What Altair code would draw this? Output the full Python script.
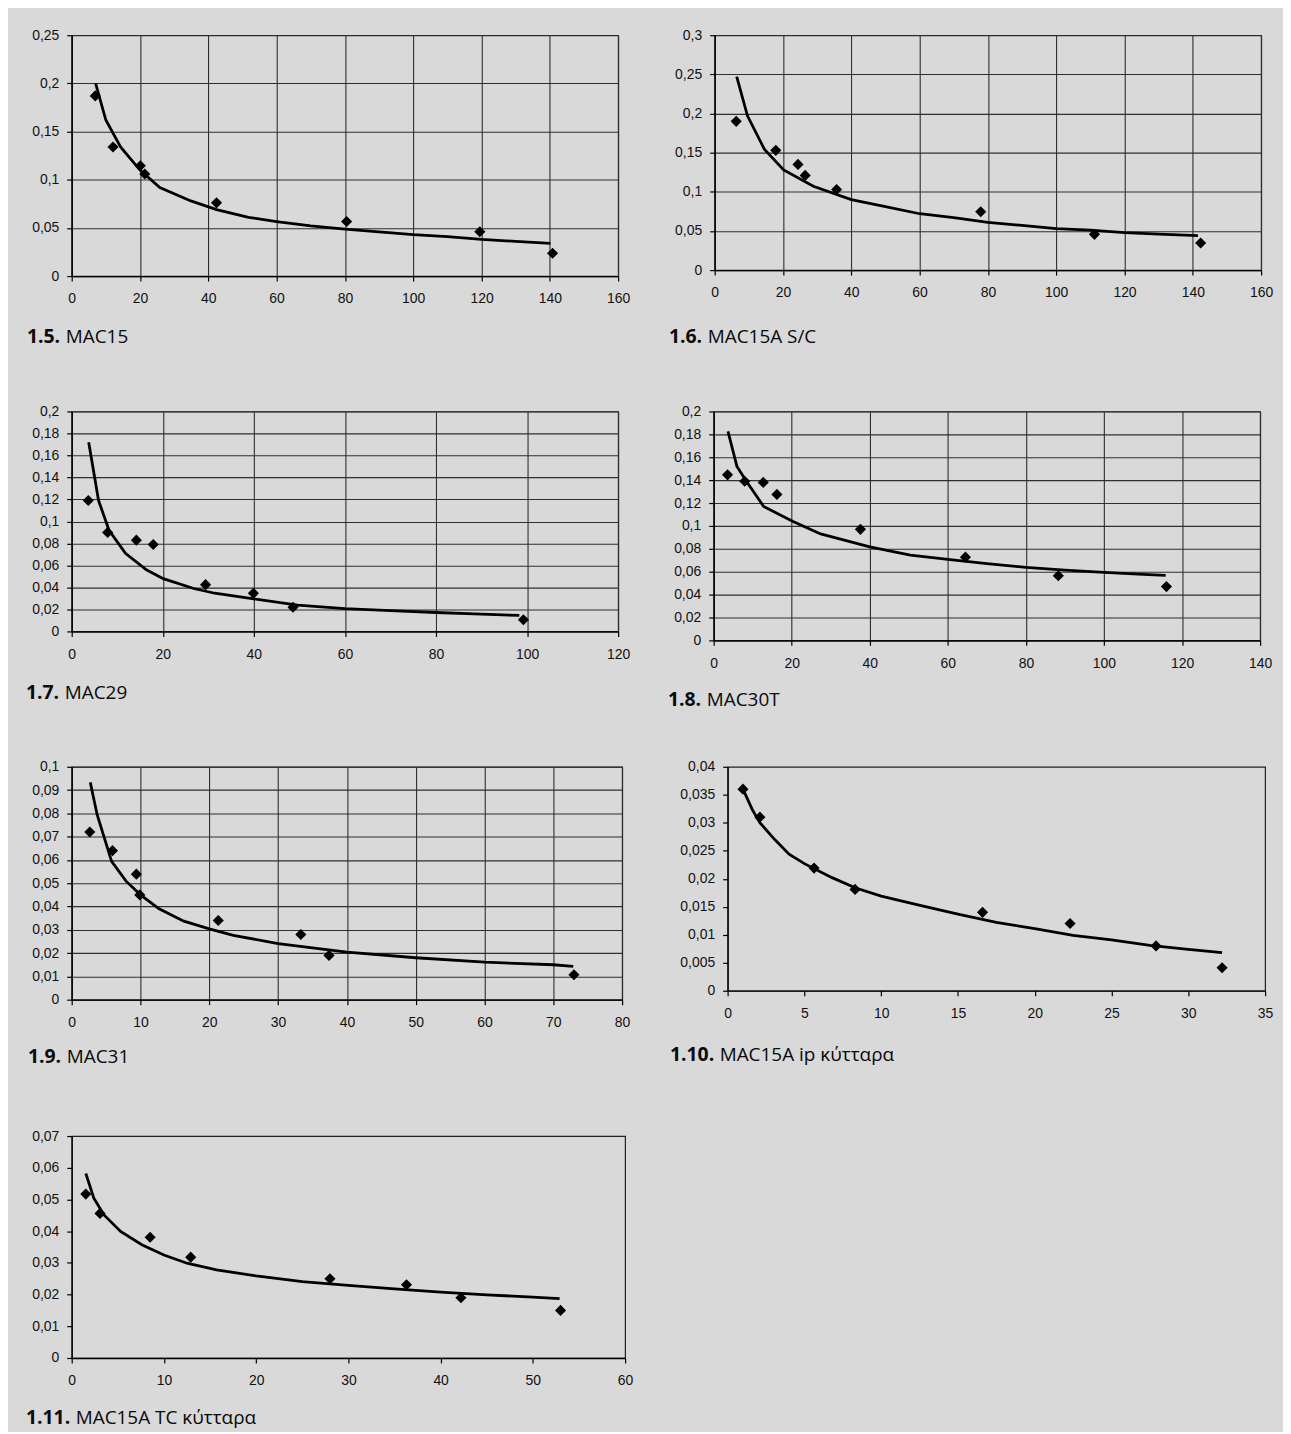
import altair as alt
import pandas as pd

# ---------------- data ----------------
numbers = ["1.5.", "1.6.", "1.7.", "1.8.", "1.9.", "1.10.", "1.11."]
names = ["MAC15", "MAC15A S/C", "MAC29", "MAC30T", "MAC31",
         "MAC15A ip κύτταρα", "MAC15A TC κύτταρα"]

# 1.5 MAC15
pts15_x = [6.9, 12.1, 20.1, 21.4, 42.4, 80.5, 119.5, 140.8]
pts15_y = [0.187, 0.134, 0.1145, 0.106, 0.076, 0.0566, 0.046, 0.0237]
fit15_x = [7.0, 10, 14.3, 20, 25.8, 34.9, 42.4, 51.8, 60, 70, 80, 90, 100, 110, 120, 130, 140.2]
fit15_y = [0.200, 0.162, 0.134, 0.110, 0.092, 0.078, 0.069, 0.061, 0.0566, 0.052,
           0.0487, 0.046, 0.043, 0.041, 0.038, 0.036, 0.034]
xt15 = [0, 20, 40, 60, 80, 100, 120, 140, 160]
yt15 = [0, 0.05, 0.1, 0.15, 0.2, 0.25]

# 1.6 MAC15A S/C
pts16_x = [6.3, 17.9, 24.4, 26.5, 35.7, 77.9, 111.2, 142.3]
pts16_y = [0.190, 0.153, 0.135, 0.121, 0.103, 0.0745, 0.0457, 0.0347]
fit16_x = [6.45, 9.6, 14.6, 20.2, 28.9, 40, 50, 60, 70, 80, 90, 100, 110, 120, 130, 141.5]
fit16_y = [0.247, 0.197, 0.154, 0.128, 0.107, 0.090, 0.081, 0.072, 0.067, 0.061,
           0.057, 0.053, 0.051, 0.048, 0.046, 0.044]
xt16 = [0, 20, 40, 60, 80, 100, 120, 140, 160]
yt16 = [0, 0.05, 0.1, 0.15, 0.2, 0.25, 0.3]

# 1.7 MAC29
pts17_x = [3.64, 7.9, 14.2, 17.9, 29.4, 39.9, 48.6, 99.2]
pts17_y = [0.119, 0.090, 0.083, 0.079, 0.0425, 0.0347, 0.022, 0.0106]
fit17_x = [3.73, 5.9, 8.2, 11.8, 16.4, 20.1, 26.8, 31.4, 40, 49.6, 60, 70, 80, 90, 98.3]
fit17_y = [0.172, 0.119, 0.092, 0.071, 0.056, 0.048, 0.039, 0.0347, 0.0296, 0.024,
           0.0208, 0.019, 0.0172, 0.0157, 0.0145]
xt17 = [0, 20, 40, 60, 80, 100, 120]
yt17 = [0, 0.02, 0.04, 0.06, 0.08, 0.1, 0.12, 0.14, 0.16, 0.18, 0.2]

# 1.8 MAC30T
pts18_x = [3.56, 7.95, 12.7, 16.2, 37.6, 64.5, 88.3, 116.0]
pts18_y = [0.1446, 0.139, 0.138, 0.1275, 0.097, 0.0727, 0.0565, 0.047]
fit18_x = [3.66, 5.96, 8.6, 12.8, 20.2, 27.4, 40, 50.4, 60, 70, 80, 90, 100, 110, 115.8]
fit18_y = [0.1826, 0.152, 0.138, 0.117, 0.104, 0.093, 0.0817, 0.0745, 0.0707, 0.067,
           0.0638, 0.0614, 0.0594, 0.0577, 0.0568]
xt18 = [0, 20, 40, 60, 80, 100, 120, 140]
yt18 = [0, 0.02, 0.04, 0.06, 0.08, 0.1, 0.12, 0.14, 0.16, 0.18, 0.2]

# 1.9 MAC31
pts19_x = [2.63, 5.93, 9.4, 9.9, 21.3, 33.3, 37.4, 73.0]
pts19_y = [0.072, 0.064, 0.0539, 0.045, 0.034, 0.028, 0.019, 0.0107]
fit19_x = [2.7, 3.7, 5.8, 7.9, 10, 12.7, 16.3, 20, 23.5, 30, 40, 50, 60, 70, 72.9]
fit19_y = [0.0933, 0.0794, 0.0594, 0.0509, 0.045, 0.039, 0.0337, 0.0304, 0.0276,
           0.0241, 0.0204, 0.018, 0.0161, 0.015, 0.0143]
xt19 = [0, 10, 20, 30, 40, 50, 60, 70, 80]
yt19 = [0, 0.01, 0.02, 0.03, 0.04, 0.05, 0.06, 0.07, 0.08, 0.09, 0.1]

# 1.10 MAC15A ip
pts110_x = [1.0, 2.1, 5.63, 8.3, 16.6, 22.3, 27.9, 32.2]
pts110_y = [0.036, 0.031, 0.0219, 0.0181, 0.014, 0.012, 0.008, 0.0041]
fit110_x = [1.0, 1.6, 2.1, 3.07, 4.0, 5, 6.8, 8.3, 10, 12.6, 15, 17.5, 20, 22.5, 25, 27.5, 30, 32.2]
fit110_y = [0.036, 0.0324, 0.030, 0.027, 0.0244, 0.0227, 0.0202, 0.0184, 0.0169, 0.0152,
            0.0137, 0.0122, 0.0111, 0.0099, 0.0091, 0.0081, 0.0074, 0.0068]
xt110 = [0, 5, 10, 15, 20, 25, 30, 35]
yt110 = [0, 0.005, 0.01, 0.015, 0.02, 0.025, 0.03, 0.035, 0.04]

# 1.11 MAC15A TC
pts111_x = [1.53, 3.07, 8.5, 12.9, 28.0, 36.3, 42.2, 53.0]
pts111_y = [0.0517, 0.0456, 0.0381, 0.0318, 0.025, 0.0231, 0.019, 0.015]
fit111_x = [1.53, 2.4, 3.5, 5.3, 7.6, 10, 12.5, 15.7, 20, 25, 30, 35, 40, 45, 50, 52.9]
fit111_y = [0.0582, 0.0504, 0.0451, 0.0399, 0.0357, 0.0325, 0.0299, 0.0278, 0.0259,
            0.0241, 0.0229, 0.0218, 0.0208, 0.0199, 0.0192, 0.0187]
xt111 = [0, 10, 20, 30, 40, 50, 60]
yt111 = [0, 0.01, 0.02, 0.03, 0.04, 0.05, 0.06, 0.07]

# ---------------- styling / layout ----------------
BG = "#d9d9d9"
LABEL_FONT = "Liberation Sans"
CAP_FONT = "Open Sans"
LAB_EXPR = "replace(format(datum.value, '~g'), '.', ',')"


def make_panel(idx, px, py, fx, fy, xt, yt, grid, W, H, cell, cap):
    xs = alt.Scale(domain=[0, xt[-1]], nice=False, zero=False)
    ys = alt.Scale(domain=[0, yt[-1]], nice=False, zero=False)
    common = dict(title=None, grid=grid, gridColor="#2f2f2f", gridWidth=1.1,
                  domainColor="#000", domainWidth=1.3, tickColor="#000",
                  tickSize=5, tickWidth=1.2, labelFont=LABEL_FONT, labelFontSize=14,
                  labelColor="#111", labelExpr=LAB_EXPR)
    xaxis = alt.Axis(values=xt, labelPadding=11, labelFlush=False, **common)
    yaxis = alt.Axis(values=yt, labelPadding=8, **common)

    fit_df = pd.DataFrame({"x": fx, "y": fy})
    pts_df = pd.DataFrame({"x": px, "y": py})
    cap_df = pd.DataFrame({"num": [numbers[idx]], "name": [names[idx]]})

    box = alt.Chart(cap_df).mark_rect(opacity=0).encode(
        x=alt.value(cell[0]), x2=alt.value(cell[1]),
        y=alt.value(cell[2]), y2=alt.value(cell[3]))
    fit = alt.Chart(fit_df).mark_line(color="black", strokeWidth=2.8).encode(
        x=alt.X("x:Q", scale=xs, axis=xaxis),
        y=alt.Y("y:Q", scale=ys, axis=yaxis))
    pts = alt.Chart(pts_df).mark_point(shape="diamond", filled=True, color="black",
                                       size=125, opacity=1).encode(
        x=alt.X("x:Q", scale=xs, axis=xaxis),
        y=alt.Y("y:Q", scale=ys, axis=yaxis))
    t1 = alt.Chart(cap_df).mark_text(align="left", baseline="middle", font=CAP_FONT,
                                     fontSize=19.5, fontWeight="bold", color="#0a0a0a",
                                     x=cap[0], y=cap[2]).encode(text="num:N")
    t2 = alt.Chart(cap_df).mark_text(align="left", baseline="middle", font=CAP_FONT,
                                     fontSize=19, color="#0a0a0a",
                                     x=cap[1], y=cap[2]).encode(text="name:N")
    return alt.layer(box, fit, pts, t1, t2).properties(width=W, height=H)


# cell = (left, right, top, bottom) relative to the plot area; cap = (num x, name x, y)
p15 = make_panel(0, pts15_x, pts15_y, fit15_x, fit15_y, xt15, yt15, True,
                 549, 242, (-62, 580, -23, 331), (-45, -6, 303))
p16 = make_panel(1, pts16_x, pts16_y, fit16_x, fit16_y, xt16, yt16, True,
                 549, 236, (-64, 569, -23, 331), (-46, -7, 303))
p17 = make_panel(2, pts17_x, pts17_y, fit17_x, fit17_y, xt17, yt17, True,
                 549, 221, (-63, 579, -45, 315), (-46, -7, 283))
p18 = make_panel(3, pts18_x, pts18_y, fit18_x, fit18_y, xt18, yt18, True,
                 549, 230, (-64, 569, -42, 318), (-46, -7, 290))
p19 = make_panel(4, pts19_x, pts19_y, fit19_x, fit19_y, xt19, yt19, True,
                 553, 234, (-61, 581, -35, 325), (-44, -5, 292))
p110 = make_panel(5, pts110_x, pts110_y, fit110_x, fit110_y, xt110, yt110, False,
                  540, 225, (-76, 557, -37, 323), (-58, -8, 290))
p111 = make_panel(6, pts111_x, pts111_y, fit111_x, fit111_y, xt111, yt111, False,
                  556, 223, (-63, 579, -44, 290), (-46, 4, 283))

row1 = alt.hconcat(p15, p16, spacing=0)
row2 = alt.hconcat(p17, p18, spacing=0)
row3 = alt.hconcat(p19, p110, spacing=0)
row4 = alt.hconcat(p111, spacing=0)

chart = alt.vconcat(row1, row2, row3, row4, spacing=0).properties(
    background=BG, padding=0
).configure_view(fill="#e7e7e8", stroke="#222", strokeWidth=1.2)

chart.save("out.html", embed_options={"renderer": "svg", "actions": False})
